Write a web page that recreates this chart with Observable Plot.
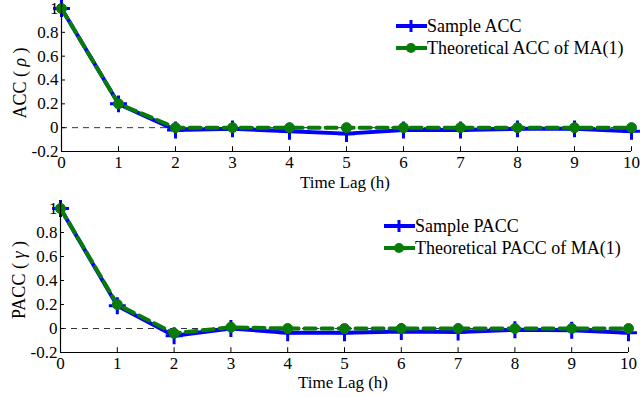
<!DOCTYPE html>
<html>
<head>
<meta charset="utf-8">
<script src="https://cdn.jsdelivr.net/npm/d3@7"></script>
<script src="https://cdn.jsdelivr.net/npm/@observablehq/plot@0.6"></script>
<style>
  html, body { margin: 0; padding: 0; background: #fff; }
  #wrap { position: relative; width: 640px; height: 397px; overflow: hidden; font-family: "Liberation Serif", "DejaVu Serif", serif; color: #000; }
  .panel { position: absolute; left: 0; }
  .lbl { position: absolute; font-size: 17px; line-height: 1; white-space: nowrap; }
  .ylbl { position: absolute; font-size: 18px; line-height: 1; white-space: nowrap; transform: translate(-50%, -50%) rotate(-90deg); }
  .legend { position: absolute; font-size: 18px; line-height: 1; }
  .legend .row { display: flex; align-items: center; height: 22px; }
  .legend svg { margin-right: 0px; }
  svg text { font-family: "Liberation Serif", "DejaVu Serif", serif; }
</style>
</head>
<body>
<div id="wrap"></div>
<script>
const lags = [0, 1, 2, 3, 4, 5, 6, 7, 8, 9, 10];
const accSample = [1, 0.2, -0.02, -0.01, -0.03, -0.05, -0.02, -0.02, -0.01, -0.01, -0.03];
const accTheory = [1, 0.2, 0, 0, 0, 0, 0, 0, 0, 0, 0];
const paccSample = [1, 0.19, -0.06, 0, -0.035, -0.035, -0.025, -0.03, -0.01, -0.015, -0.035];
const paccTheory = [1, 0.2, -0.04, 0.01, 0, 0, 0, 0, 0, 0, 0];
const yTicks = [-0.2, 0, 0.2, 0.4, 0.6, 0.8, 1];
const xTicks = [0, 1, 2, 3, 4, 5, 6, 7, 8, 9, 10];
const xLabel = "Time Lag (h)";
const panels = [
  { sample: accSample, theory: accTheory, yName: "ACC", sym: "ρ",
    legend: ["Sample ACC", "Theoretical ACC of MA(1)"] },
  { sample: paccSample, theory: paccTheory, yName: "PACC", sym: "γ",
    legend: ["Sample PACC", "Theoretical PACC of MA(1)"] }
];

const BLUE = "#0000ff";
const GREEN = "#087c08";
const wrap = document.getElementById("wrap");

const layouts = [
  { top: 0, height: 200, marginLeft: 61, marginRight: 9, marginTop: 8, marginBottom: 49,
    ylabX: 20, ylabY: 83, xlabX: 345, xlabY: 174, legX: 396, legY: 15 },
  { top: 200, height: 197, marginLeft: 60, marginRight: 12, marginTop: 8, marginBottom: 45,
    ylabX: 19, ylabY: 280, xlabX: 343, xlabY: 374, legX: 384, legY: 215 }
];

panels.forEach((p, i) => {
  const L = layouts[i];
  const sData = lags.map((x, k) => ({ x, y: p.sample[k] }));
  const tData = lags.map((x, k) => ({ x, y: p.theory[k] }));
  const chart = Plot.plot({
    width: 640,
    height: L.height,
    marginLeft: L.marginLeft,
    marginRight: L.marginRight,
    marginTop: L.marginTop,
    marginBottom: L.marginBottom,
    style: { fontFamily: "'Liberation Serif', 'DejaVu Serif', serif", fontSize: "17px", background: "transparent", overflow: "visible" },
    x: { domain: [0, 10] },
    y: { domain: [-0.2, 1] },
    marks: [
      Plot.axisX(xTicks, { tickSize: 0, tickPadding: 4, tickFormat: d => String(d), label: null, fontSize: 17 }),
      Plot.axisY(yTicks, { tickSize: 0, tickPadding: 3, tickFormat: d => String(d), label: null, fontSize: 17 }),
      Plot.ruleX(xTicks, { x: d => d, y1: -0.2, y2: -0.2 + 0.04, stroke: "#000", strokeWidth: 1 }),
      Plot.ruleY(yTicks, { y: d => d, x1: 0, x2: 0.07, stroke: "#000", strokeWidth: 1 }),
      Plot.ruleY([0], { stroke: "#000", strokeWidth: 0.8, strokeDasharray: "6,5" }),
      Plot.line(sData, { x: "x", y: "y", stroke: BLUE, strokeWidth: 4 }),
      Plot.dot(sData, { x: "x", y: "y", symbol: "plus", r: 5.5, stroke: BLUE, strokeWidth: 3 }),
      Plot.line(tData, { x: "x", y: "y", stroke: GREEN, strokeWidth: 4, strokeDasharray: "11,6" }),
      Plot.dot(tData, { x: "x", y: "y", r: 5, fill: GREEN, stroke: GREEN, strokeWidth: 1 }),
      Plot.ruleX([0], { y1: -0.2, y2: 1.06, stroke: "#000", strokeWidth: 1.2 }),
      Plot.ruleY([-0.2], { x1: 0, x2: 10, stroke: "#000", strokeWidth: 1.2 })
    ]
  });
  const holder = document.createElement("div");
  holder.className = "panel";
  holder.style.top = L.top + "px";
  holder.appendChild(chart);
  wrap.appendChild(holder);

  const xl = document.createElement("div");
  xl.className = "lbl";
  xl.textContent = xLabel;
  xl.style.left = L.xlabX + "px";
  xl.style.top = L.xlabY + "px";
  xl.style.transform = "translateX(-50%)";
  wrap.appendChild(xl);

  const yl = document.createElement("div");
  yl.className = "ylbl";
  yl.innerHTML = p.yName + " ( <i>" + p.sym + "</i> )";
  yl.style.left = L.ylabX + "px";
  yl.style.top = L.ylabY + "px";
  wrap.appendChild(yl);

  const lg = document.createElement("div");
  lg.className = "legend";
  lg.style.left = L.legX + "px";
  lg.style.top = L.legY + "px";
  const sw1 = `<svg width="31" height="16"><line x1="0" y1="8" x2="31" y2="8" stroke="${BLUE}" stroke-width="4"/><line x1="15" y1="2" x2="15" y2="14" stroke="${BLUE}" stroke-width="3"/></svg>`;
  const sw2 = `<svg width="31" height="16"><line x1="0" y1="8" x2="31" y2="8" stroke="${GREEN}" stroke-width="4"/><circle cx="15" cy="8" r="5" fill="${GREEN}"/></svg>`;
  lg.innerHTML = `<div class="row">${sw1}<span>${p.legend[0]}</span></div><div class="row">${sw2}<span>${p.legend[1]}</span></div>`;
  wrap.appendChild(lg);
});
</script>
</body>
</html>
